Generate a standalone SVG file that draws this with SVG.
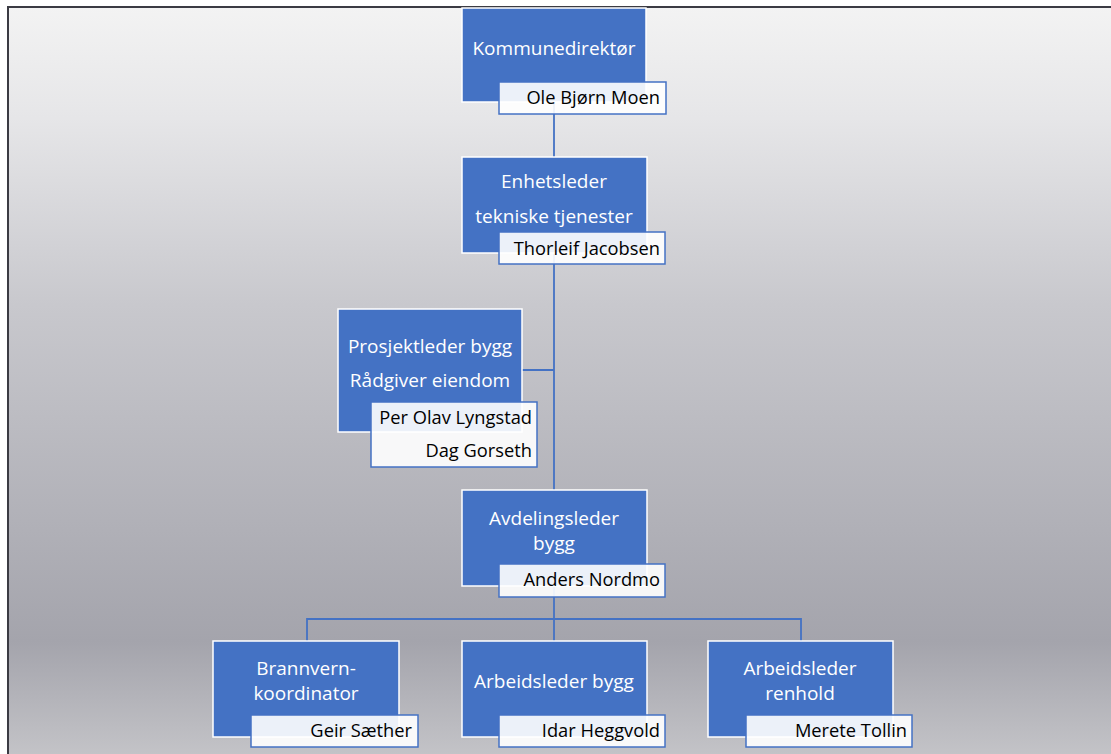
<svg xmlns="http://www.w3.org/2000/svg" width="1111" height="754" viewBox="0 0 1111 754">
<defs>
<linearGradient id="bg" x1="0" y1="6" x2="0" y2="754" gradientUnits="userSpaceOnUse">
<stop offset="0" stop-color="#f3f3f3"/>
<stop offset="0.15" stop-color="#e6e6e8"/>
<stop offset="0.4" stop-color="#c8c8cd"/>
<stop offset="0.85" stop-color="#a4a4ac"/>
<stop offset="1" stop-color="#c3c3c7"/>
</linearGradient>
<style>
.box{fill:#4472c4;stroke:#ffffff;stroke-width:1.5}
.nm{fill:#ffffff;fill-opacity:0.9;stroke:#4472c4;stroke-width:1.5}
.t{font-family:"Open Sans","Liberation Sans",sans-serif;font-size:19px;fill:#ffffff;text-anchor:middle}
.n{font-family:"Open Sans","Liberation Sans",sans-serif;font-size:18.3px;fill:#000000;text-anchor:end}
.c{fill:none;stroke:#4472c4;stroke-width:1.8}
</style>
</defs>
<rect x="0" y="0" width="1111" height="754" fill="#ffffff"/>
<rect x="8" y="7" width="1110" height="760" fill="url(#bg)" stroke="#3b3b43" stroke-width="2"/>
<g id="connectors">
<path class="c" d="M554 102V157M554 253V490M522 370H554M554 586V619M307 641V619H801V641M554 619V641"/>
</g>
<g id="n1">
<rect class="box" x="462" y="8" width="184" height="94"/>
<text class="t" x="554" y="55">Kommunedirektør</text>
<rect class="nm" x="499" y="82" width="167" height="32"/>
<text class="n" x="660" y="104">Ole Bjørn Moen</text>
</g>
<g id="n2">
<rect class="box" x="462" y="157" width="185" height="96"/>
<text class="t" x="554" y="188">Enhetsleder</text>
<text class="t" x="554" y="223">tekniske tjenester</text>
<rect class="nm" x="499" y="232" width="166" height="32"/>
<text class="n" x="660" y="255">Thorleif Jacobsen</text>
</g>
<g id="n3">
<rect class="box" x="338" y="309" width="184" height="123"/>
<text class="t" x="430" y="353">Prosjektleder bygg</text>
<text class="t" x="430" y="387">Rådgiver eiendom</text>
<rect class="nm" x="371" y="402" width="166" height="65"/>
<text class="n" x="532" y="424">Per Olav Lyngstad</text>
<text class="n" x="532" y="457">Dag Gorseth</text>
</g>
<g id="n4">
<rect class="box" x="462" y="490" width="185" height="96"/>
<text class="t" x="554" y="525">Avdelingsleder</text>
<text class="t" x="554" y="550">bygg</text>
<rect class="nm" x="499" y="564" width="166" height="33"/>
<text class="n" x="660" y="586">Anders Nordmo</text>
</g>
<g id="n5">
<rect class="box" x="213" y="641" width="186" height="96"/>
<text class="t" x="306" y="675">Brannvern-</text>
<text class="t" x="306" y="700">koordinator</text>
<rect class="nm" x="251" y="715" width="167" height="32"/>
<text class="n" x="412" y="737">Geir Sæther</text>
</g>
<g id="n6">
<rect class="box" x="462" y="641" width="185" height="96"/>
<text class="t" x="554" y="688">Arbeidsleder bygg</text>
<rect class="nm" x="499" y="715" width="166" height="32"/>
<text class="n" x="660" y="737">Idar Heggvold</text>
</g>
<g id="n7">
<rect class="box" x="708" y="641" width="185" height="96"/>
<text class="t" x="800" y="675">Arbeidsleder</text>
<text class="t" x="800" y="700">renhold</text>
<rect class="nm" x="746" y="715" width="166" height="32"/>
<text class="n" x="907" y="737">Merete Tollin</text>
</g>
</svg>
